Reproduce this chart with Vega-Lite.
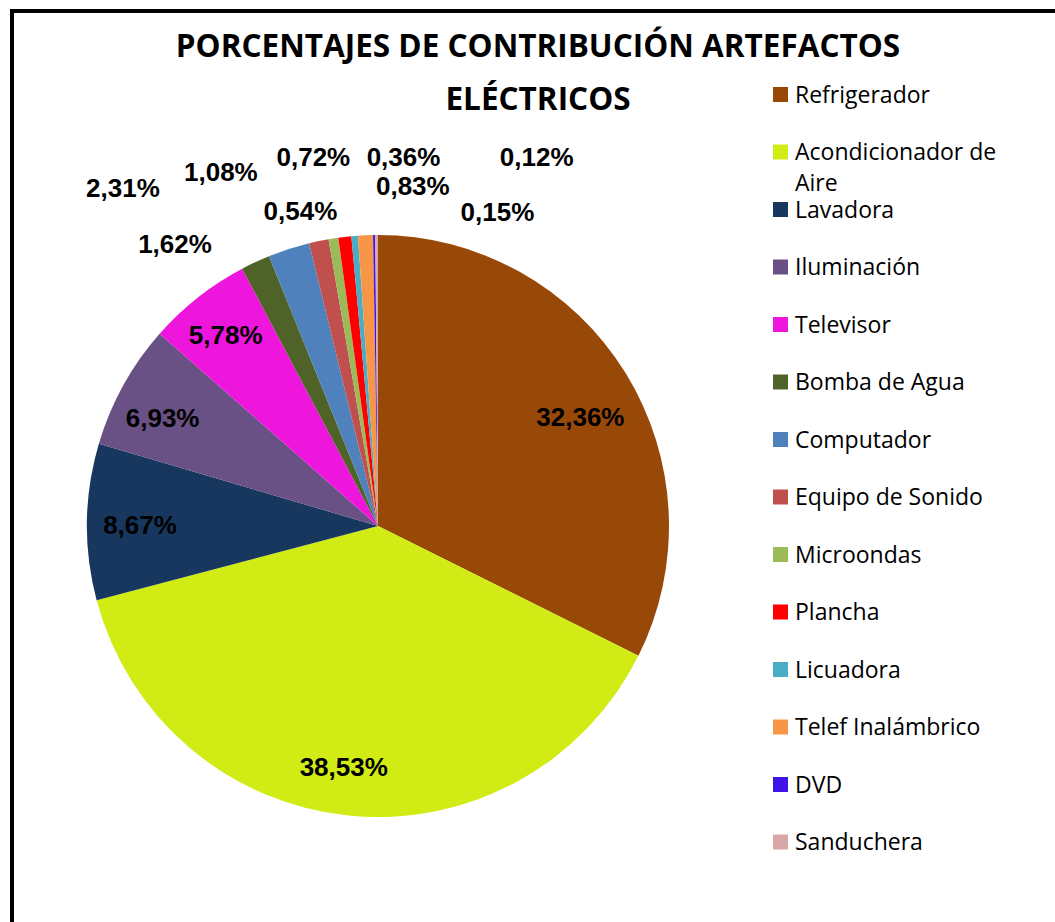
{
  "$schema": "https://vega.github.io/schema/vega-lite/v6.json",
  "autosize": "none",
  "width": 1043,
  "height": 911,
  "padding": {"left": 12, "top": 11, "right": 0, "bottom": 0},
  "background": "white",
  "title": {
    "text": ["PORCENTAJES DE CONTRIBUCIÓN ARTEFACTOS", "ELÉCTRICOS"],
    "font": "Open Sans",
    "fontSize": 31.5,
    "fontWeight": "bold",
    "color": "black",
    "anchor": "middle",
    "frame": "group",
    "dx": 4.5,
    "offset": -132,
    "baseline": "alphabetic",
    "lineHeight": 53
  },
  "data": {
    "values": [
      {"aparato": "Refrigerador", "pct": 32.36, "orden": 1},
      {"aparato": "Acondicionador de Aire", "pct": 38.53, "orden": 2},
      {"aparato": "Lavadora", "pct": 8.67, "orden": 3},
      {"aparato": "Iluminación", "pct": 6.93, "orden": 4},
      {"aparato": "Televisor", "pct": 5.78, "orden": 5},
      {"aparato": "Bomba de Agua", "pct": 1.62, "orden": 6},
      {"aparato": "Computador", "pct": 2.31, "orden": 7},
      {"aparato": "Equipo de Sonido", "pct": 1.08, "orden": 8},
      {"aparato": "Microondas", "pct": 0.54, "orden": 9},
      {"aparato": "Plancha", "pct": 0.72, "orden": 10},
      {"aparato": "Licuadora", "pct": 0.36, "orden": 11},
      {"aparato": "Telef Inalámbrico", "pct": 0.83, "orden": 12},
      {"aparato": "DVD", "pct": 0.12, "orden": 13},
      {"aparato": "Sanduchera", "pct": 0.15, "orden": 14}
    ]
  },
  "transform": [
    {"stack": "pct", "groupby": [], "sort": [{"field": "orden", "order": "ascending"}], "as": ["ini", "fin"]},
    {"calculate": "(datum.ini + datum.fin) / 2", "as": "medio"},
    {"calculate": "replace(format(datum.pct, '.2f'), '.', ',') + '%'", "as": "etiqueta"}
  ],
  "layer": [
    {
      "data": {"values": [{"marco": "borde"}]},
      "transform": [],
      "mark": {"type": "rect", "fillOpacity": 0, "stroke": "black", "strokeWidth": 4, "x2Offset": 12, "y2Offset": 12},
      "encoding": {
        "x": {"value": 0},
        "y": {"value": 0},
        "x2": {"value": "width"},
        "y2": {"value": "height"}
      }
    },
    {
      "mark": {"type": "arc", "outerRadius": 291, "x": 366, "y": 515},
      "encoding": {
        "theta": {"field": "ini", "type": "quantitative", "scale": {"domain": [0, 100]}},
        "theta2": {"field": "fin"},
        "color": {
          "field": "aparato",
          "type": "nominal",
          "scale": {
            "domain": ["Refrigerador", "Acondicionador de Aire", "Lavadora", "Iluminación", "Televisor", "Bomba de Agua", "Computador", "Equipo de Sonido", "Microondas", "Plancha", "Licuadora", "Telef Inalámbrico", "DVD", "Sanduchera"],
            "range": ["#984807", "#D0EC14", "#17375E", "#695185", "#EE15DC", "#4F6228", "#4F81BD", "#C0504D", "#9BBB59", "#FF0000", "#4BACC6", "#F79646", "#3F14E6", "#D9A7A7"]
          },
          "legend": {
            "title": null,
            "orient": "none",
            "legendX": 757,
            "legendY": 72,
            "padding": 0,
            "symbolType": "square",
            "symbolSize": 225,
            "symbolStrokeWidth": 0,
            "labelFont": "Open Sans",
            "labelFontSize": 23,
            "labelColor": "black",
            "labelOffset": 3,
            "labelLimit": 0,
            "labelBaseline": "alphabetic",
            "gridAlign": "all",
            "rowPadding": 1.5,
            "labelExpr": "datum.label === 'Acondicionador de Aire' ? ['Acondicionador de', 'Aire'] : datum.label",
            "encode": {"labels": {"update": {"dy": {"value": 8}, "lineHeight": {"value": 31}}}}
          }
        }
      }
    },
    {
      "transform": [{"filter": "datum.pct > 5"}],
      "mark": {
        "type": "text", "radius": 238, "x": 366, "y": 515, "font": "Liberation Sans", "fontSize": 26, "fontWeight": "bold", "color": "black", "align": "center", "baseline": "middle",
        "dx": {"expr": "datum.aparato==='Acondicionador de Aire'?-10:datum.aparato==='Iluminación'?-7:datum.aparato==='Televisor'?-5:0"},
        "dy": {"expr": "datum.aparato==='Refrigerador'?17:datum.aparato==='Acondicionador de Aire'?5:datum.aparato==='Iluminación'?8:datum.aparato==='Lavadora'?3:datum.aparato==='Televisor'?-3:0"}
      },
      "encoding": {
        "theta": {"field": "medio", "type": "quantitative"},
        "text": {"field": "etiqueta"}
      }
    },
    {
      "transform": [{"filter": "datum.pct < 5"}],
      "mark": {
        "type": "text", "radius": 330, "x": 366, "y": 515, "font": "Liberation Sans", "fontSize": 26, "fontWeight": "bold", "color": "black", "align": "center", "baseline": "middle",
        "dx": {"expr": "datum.aparato==='Bomba de Agua'?-64:datum.aparato==='Computador'?-154:datum.aparato==='Equipo de Sonido'?-90:datum.aparato==='Microondas'?-27:datum.aparato==='Plancha'?-27:datum.aparato==='Licuadora'?52:datum.aparato==='Telef Inalámbrico'?49:datum.aparato==='DVD'?163:datum.aparato==='Sanduchera'?121:0"},
        "dy": {"expr": "datum.aparato==='Bomba de Agua'?18:datum.aparato==='Computador'?-23:datum.aparato==='Equipo de Sonido'?-30:datum.aparato==='Microondas'?12:datum.aparato==='Plancha'?-40:datum.aparato==='Licuadora'?-39:datum.aparato==='Telef Inalámbrico'?-9:datum.aparato==='DVD'?-38:datum.aparato==='Sanduchera'?17:0"}
      },
      "encoding": {
        "theta": {"field": "medio", "type": "quantitative"},
        "text": {"field": "etiqueta"}
      }
    }
  ],
  "config": {
    "view": {"stroke": null}
  }
}
